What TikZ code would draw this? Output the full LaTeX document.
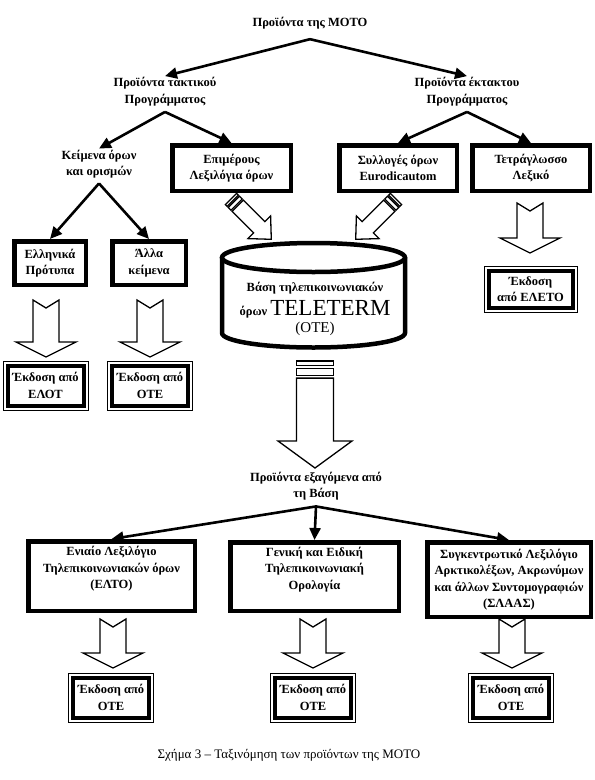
\documentclass[tikz,border=0pt]{standalone}
\usepackage{fontspec}
\setmainfont{Liberation Serif}
\usetikzlibrary{arrows.meta}

% block arrow with two stripes at its tail, drawn along +x
\newcommand{\stripearrow}[5]{%
  \draw[blockarrow] (0,-#2) rectangle (#5,#2);
  \draw[blockarrow] ({1.6*#5},-#2) rectangle ({3.2*#5},#2);
  \draw[blockarrow] ({3.8*#5},-#2) -- ({#1-#4},-#2) -- ({#1-#4},-#3) -- (#1,0)
    -- ({#1-#4},#3) -- ({#1-#4},#2) -- ({3.8*#5},#2) -- cycle;}
% notched block arrow pointing down
\newcommand{\notcharrow}[3]{%
  \draw[blockarrow] ({#1-13},#2) -- (#1,{#2+8}) -- ({#1+13},#2) -- ({#1+13},{#3-15})
    -- ({#1+30},{#3-15}) -- (#1,#3) -- ({#1-30},{#3-15}) -- ({#1-13},{#3-15}) -- cycle;}

\tikzset{
  lbl/.style={font=\bfseries\fontsize{12.5}{16.5}\selectfont, align=center, inner sep=1pt},
  termbox/.style={lbl, draw, line width=4.5pt},
  pubbox/.style={lbl, draw, line width=4pt, minimum width=76pt, minimum height=40pt},
  link/.style={line width=2.6pt, -{Triangle[length=12pt,width=11pt]}},
  blockarrow/.style={draw, fill=white, line width=1.3pt, line join=miter},
}

\begin{document}
\begin{tikzpicture}[x=1pt,y=-1pt]
\useasboundingbox (0,0) rectangle (595,780);
\fill[white] (0,0) rectangle (595,780);

% top levels
\node[lbl] (title) at (310,23) {Προϊόντα της ΜΟΤΟ};
\node[lbl] (tak) at (165,91.5) {Προϊόντα τακτικού\\Προγράμματος};
\node[lbl] (ekt) at (467,91.5) {Προϊόντα έκτακτου\\Προγράμματος};
\node[lbl] (keim) at (99,164) {Κείμενα όρων\\και ορισμών};
\node[termbox, minimum width=118.5, minimum height=45.5] (epi) at (231.5,168) {Επιμέρους\\Λεξιλόγια όρων};
\node[termbox, minimum width=117.5, minimum height=45.5] (syl) at (398,168) {Συλλογές όρων\\Eurodicautom};
\node[termbox, minimum width=117.5, minimum height=45.5] (tetr) at (531,168) {Τετράγλωσσο\\Λεξικό};
\node[termbox, minimum width=71.5, minimum height=43.5] (ell) at (50,263) {Ελληνικά\\Πρότυπα};
\node[termbox, minimum width=73.5, minimum height=43.5] (alla) at (149,263) {Άλλα\\κείμενα};

\path (title.south) ++(0,9) coordinate (titlefork);
\path (tak.south) ++(0,5) coordinate (takfork);
\path (ekt.south) ++(0,5) coordinate (ektfork);
\path (keim.south) ++(0,4) coordinate (keimfork);
\draw[link] (titlefork) -- (tak.north);
\draw[link] (titlefork) -- (ekt.north);
\draw[link] (takfork) -- (keim.north);
\draw[link] (takfork) -- (epi.north);
\draw[link] (ektfork) -- (syl.north);
\draw[link] (ektfork) -- (tetr.north);
\draw[link] (keimfork) -- (ell.north);
\draw[link] (keimfork) -- (alla.north);

% editions, first row
\notcharrow{46}{300}{357}
\notcharrow{150}{300}{357}
\notcharrow{530}{203}{253}
\node[pubbox] (pubelot) at (45.5,385.5) {Έκδοση από\\ΕΛΟΤ};
\node[pubbox] (puballa) at (150,385.5) {Έκδοση από\\ΟΤΕ};
\node[pubbox, minimum width=84, minimum height=37] (pubeleto) at (530.5,289) {Έκδοση\\από ΕΛΕΤΟ};

% database
\draw[line width=4.5pt] (313.5,257.5) ellipse [x radius=91.5, y radius=14.5];
\draw[line width=4.5pt] (222,257.5) -- (222,333)
  arc[start angle=180, end angle=0, x radius=91.5, y radius=14.5] -- (405,257.5);
\node[lbl] (base) at (315,309) {Βάση τηλεπικοινωνιακών\\[5pt]όρων
  {\mdseries\fontsize{23}{23}\selectfont TELETERM}\\{\mdseries\fontsize{15}{15}\selectfont (ΟΤΕ)}};
\begin{scope}[shift={(231,199)}, rotate=-45]
  \stripearrow{57}{8}{16}{17}{2.5}
\end{scope}
\begin{scope}[shift={(396,199)}, rotate=-135]
  \stripearrow{57}{8}{16}{17}{2.5}
\end{scope}
\begin{scope}[shift={(315,361)}, rotate=-90]
  \stripearrow{107}{18.5}{37}{27}{4.5}
\end{scope}

% products of the base
\node[lbl] (exag) at (316,486) {Προϊόντα εξαγόμενα από\\τη Βάση};
\node[termbox, minimum width=166.5, minimum height=69.5] (elto) at (111.5,576) {Ενιαίο Λεξιλόγιο\\Τηλεπικοινωνιακών όρων\\(ΕΛΤΟ)\\\mbox{}};
\node[termbox, minimum width=168.5, minimum height=68.5] (gen) at (314.5,576.5) {Γενική και Ειδική\\Τηλεπικοινωνιακή\\Ορολογία\\\mbox{}};
\node[termbox, minimum width=163.5, minimum height=74.5] (sygk) at (509,579.5) {Συγκεντρωτικό Λεξιλόγιο\\Αρκτικολέξων, Ακρωνύμων\\και άλλων Συντομογραφιών\\(ΣΛΑΑΣ)};
\path (exag.south) ++(0,5) coordinate (exagfork);
\draw[link] (exagfork) -- (elto.north);
\draw[link] (exagfork) -- (gen.north);
\draw[link] (exagfork) -- (sygk.north);

\notcharrow{113}{619}{668}
\notcharrow{313}{619}{668}
\notcharrow{512}{619}{668}
\node[pubbox] (pubelto) at (111,697.5) {Έκδοση από\\ΟΤΕ};
\node[pubbox] (pubgen) at (313,697.5) {Έκδοση από\\ΟΤΕ};
\node[pubbox] (pubsygk) at (511,697.5) {Έκδοση από\\ΟΤΕ};

% thin outer frames of the editions
\foreach \n in {pubelot,puballa,pubeleto,pubelto,pubgen,pubsygk}
  \draw[line width=1pt] ([xshift=-2.5pt,yshift=-2.5pt]\n.south west) rectangle ([xshift=2.5pt,yshift=2.5pt]\n.north east);

\node[font=\fontsize{13}{15}\selectfont] (caption) at (289,755) {Σχήμα 3 – Ταξινόμηση των προϊόντων της ΜΟΤΟ};
\end{tikzpicture}
\end{document}
